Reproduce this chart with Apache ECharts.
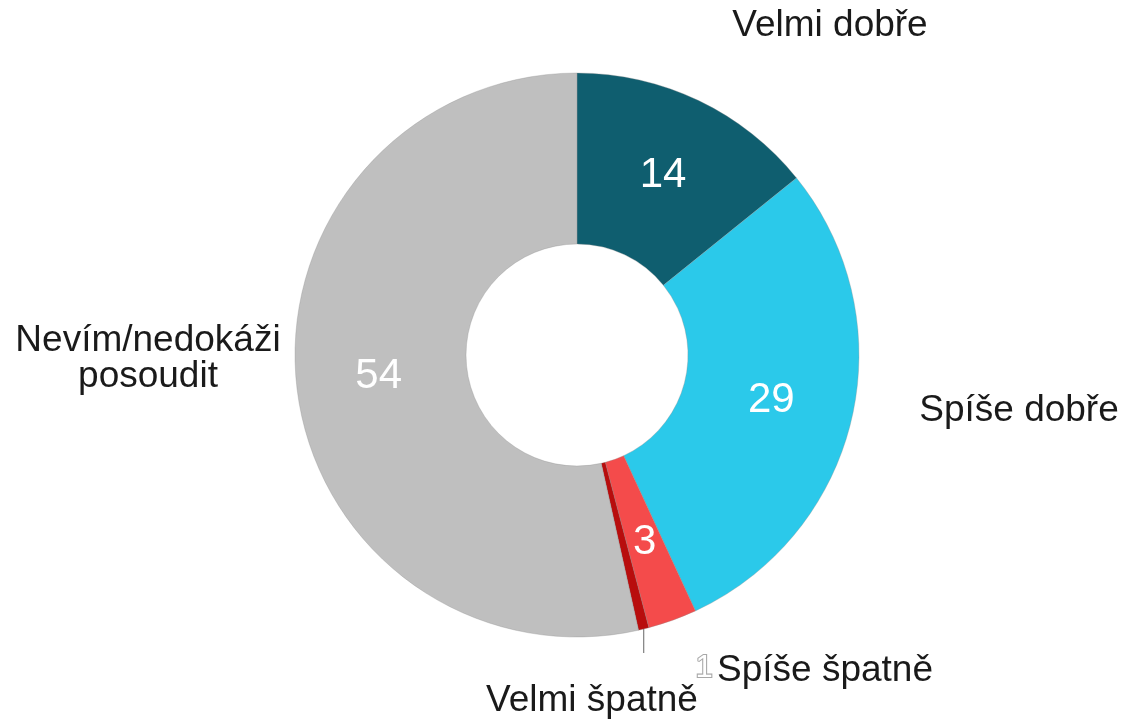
<!DOCTYPE html>
<html>
<head>
<meta charset="utf-8">
<script src="https://cdn.jsdelivr.net/npm/echarts@6/dist/echarts.min.js"></script>
<style>html,body{margin:0;padding:0;background:#fff}#c{width:1128px;height:723px}</style>
</head>
<body>
<div id="c"></div>
<script>
const categories = ['Velmi dobře', 'Spíše dobře', 'Spíše špatně', 'Velmi špatně', 'Nevím/nedokáži\nposoudit'];
const shares = [14.2, 28.9, 2.8, 0.6, 53.5];
const shownValues = [14, 29, 3, 1, 54];
const colors = ['#0f5e6f', '#2bc9ea', '#f44b4b', '#b80d0d', '#bfbfbf'];

const font = '"Liberation Sans", Arial, sans-serif';
const namePos = [
  { x: 830, y: 26 },
  { x: 1019, y: 411 },
  { x: 825, y: 671 },
  { x: 592, y: 701 },
  { x: 148, y: 359 }
];

const chart = echarts.init(document.getElementById('c'), null, { renderer: 'canvas' });

const dataA = categories.map((c, i) => ({
  name: c,
  value: shares[i],
  itemStyle: { color: colors[i] },
  label: i === 3 ? {
    color: '#ffffff', textBorderColor: '#a8a8a8', textBorderWidth: 2.2, fontSize: 31
  } : {}
}));
const dataB = categories.map((c, i) => ({
  name: c,
  value: shares[i],
  labelLine: { show: i === 3 }
}));

chart.setOption({
  animation: false,
  backgroundColor: '#ffffff',
  series: [
    {
      type: 'pie',
      center: [577, 355],
      radius: [111, 282],
      startAngle: 90,
      clockwise: true,
      silent: true,
      itemStyle: { borderColor: 'rgba(140,140,140,0.55)', borderWidth: 0.6 },
      label: {
        show: true,
        position: 'inside',
        color: '#ffffff',
        fontFamily: font,
        fontSize: 42,
        formatter: p => String(shownValues[p.dataIndex])
      },
      labelLine: { show: false },
      labelLayout: p => p.dataIndex === 3 ? { x: 704, y: 668, align: 'center', verticalAlign: 'middle' } : {},
      data: dataA
    },
    {
      type: 'pie',
      center: [577, 355],
      radius: [111, 282],
      startAngle: 90,
      clockwise: true,
      silent: true,
      z: 1,
      itemStyle: { color: 'rgba(0,0,0,0)', borderWidth: 0 },
      label: {
        show: true,
        position: 'outside',
        color: '#1a1a1a',
        fontFamily: font,
        fontSize: 37,
        lineHeight: 36,
        align: 'center',
        overflow: 'none',
        width: 400,
        formatter: p => p.name
      },
      labelLine: { show: false, length: 12, length2: 12, lineStyle: { color: '#7f7f7f', width: 1.2 } },
      labelLayout: p => {
        const pos = namePos[p.dataIndex];
        const out = { x: pos.x, y: pos.y, align: 'center', verticalAlign: 'middle' };
        if (p.dataIndex === 3 && p.labelLinePoints) {
          const s = p.labelLinePoints[0];
          out.labelLinePoints = [[s[0], s[1]], [s[0], s[1] + 12], [s[0], s[1] + 24]];
        }
        return out;
      },
      data: dataB
    }
  ]
});
</script>
</body>
</html>
